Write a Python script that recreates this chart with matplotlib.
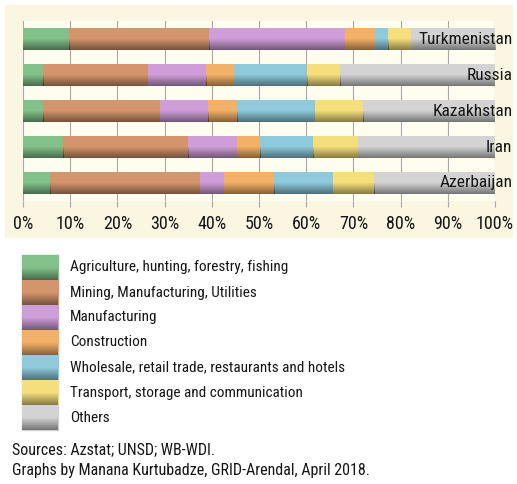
import numpy as np
import matplotlib
matplotlib.use("Agg")
import matplotlib.pyplot as plt
from matplotlib.patches import Rectangle
from matplotlib.colors import LinearSegmentedColormap

plt.rcParams['font.family'] = ['Roboto Condensed', 'DejaVu Sans']

COUNTRIES = ["Turkmenistan", "Russia", "Kazakhstan", "Iran", "Azerbaijan"]
SECTORS = [
    "Agriculture, hunting, forestry, fishing",
    "Mining, Manufacturing, Utilities",
    "Manufacturing",
    "Construction",
    "Wholesale, retail trade, restaurants and hotels",
    "Transport, storage and communication",
    "Others",
]
# share of GDP (%) per sector, one list per sector, in COUNTRIES order
agriculture = [9.8, 4.3, 4.3, 8.5, 5.8]
mining = [29.7, 22.1, 24.7, 26.5, 31.7]
manufacturing = [28.8, 12.4, 10.2, 10.3, 5.0]
construction = [6.3, 5.8, 6.2, 4.9, 10.7]
wholesale = [2.8, 15.5, 16.5, 11.3, 12.5]
transport = [4.8, 7.1, 10.2, 9.5, 8.7]
others = [17.8, 32.8, 27.9, 29.0, 25.6]
VALUES = [agriculture, mining, manufacturing, construction, wholesale, transport, others]
TICKS = [0, 10, 20, 30, 40, 50, 60, 70, 80, 90, 100]

COLORS = ["#82c28a", "#d4956c", "#cf9ed8", "#f3b067", "#8ecadb", "#f4df7c", "#d3d3d3"]
TXT = "#161616"

fig = plt.figure(figsize=(5.17, 4.84), dpi=100)
W, H = 517, 484

shade = LinearSegmentedColormap.from_list(
    "shade", [(0, 0, 0, 0.0), (0, 0, 0, 0.0), (0, 0, 0, 0.45)])
grad = np.linspace(0, 1, 64).reshape(-1, 1)


def add_shade(axis, patch):
    # darker towards the bottom edge (both axes have inverted y)
    x0, y0 = patch.get_x(), patch.get_y()
    x1, y1 = x0 + patch.get_width(), y0 + patch.get_height()
    im = axis.imshow(grad, extent=[x0, x1, y1, y0], cmap=shade, aspect="auto",
                     zorder=3, origin="upper")
    im.set_clip_path(patch)


# overlay in pixel coords for the cream panel
lay = fig.add_axes([0, 0, 1, 1], zorder=-1)
lay.set_xlim(0, W)
lay.set_ylim(H, 0)
lay.axis("off")
lay.add_patch(Rectangle((5, 5), 507, 232, color="#faf6e2", zorder=0))

ax = fig.add_axes([23 / W, 1 - 201 / H, 472 / W, 180 / H])
ax.set_facecolor("#fffcf0")

y = np.arange(len(COUNTRIES))
left = np.zeros(len(COUNTRIES))
for vals, col in zip(VALUES, COLORS):
    bars = ax.barh(y, vals, left=left, height=0.62, color=col, zorder=2)
    for b in bars:
        add_shade(ax, b)
    left += np.array(vals)

for yi, name in zip(y, COUNTRIES):
    ax.text(103.7, yi, name, ha="right", va="center", fontsize=12.5,
            color=TXT, zorder=4, clip_on=False)

ax.set_xlim(0, 100)
ax.set_ylim(len(COUNTRIES) - 0.5, -0.5)
ax.set_xticks(TICKS)
ax.set_xticklabels([f"{t}%" for t in TICKS], fontsize=13, color=TXT)
ax.set_yticks([])
ax.grid(axis="x", color="#a8a8a8", linewidth=0.8, zorder=1)
ax.tick_params(axis="x", length=4, color="#a8a8a8", pad=6)
for s in ax.spines.values():
    s.set_visible(False)

# legend swatches, stacked with no gap
leg = fig.add_axes([0, 0, 1, 1], zorder=2)
leg.axis("off")
row = 25.0
for i, (lab, col) in enumerate(zip(SECTORS, COLORS)):
    top = 255 + i * row
    r = Rectangle((22, top), 36, row, color=col, zorder=2)
    leg.add_patch(r)
    add_shade(leg, r)
    leg.text(70, top + row / 2, lab, fontsize=11, va="center", color=TXT)

leg.text(12, 450, "Sources: Azstat; UNSD; WB-WDI.", fontsize=11.5, va="center", color=TXT)
leg.text(12, 470, "Graphs by Manana Kurtubadze, GRID-Arendal, April 2018.",
         fontsize=11.5, va="center", color=TXT)
leg.set_xlim(0, W)
leg.set_ylim(H, 0)

fig.savefig("out.png", dpi=100)
